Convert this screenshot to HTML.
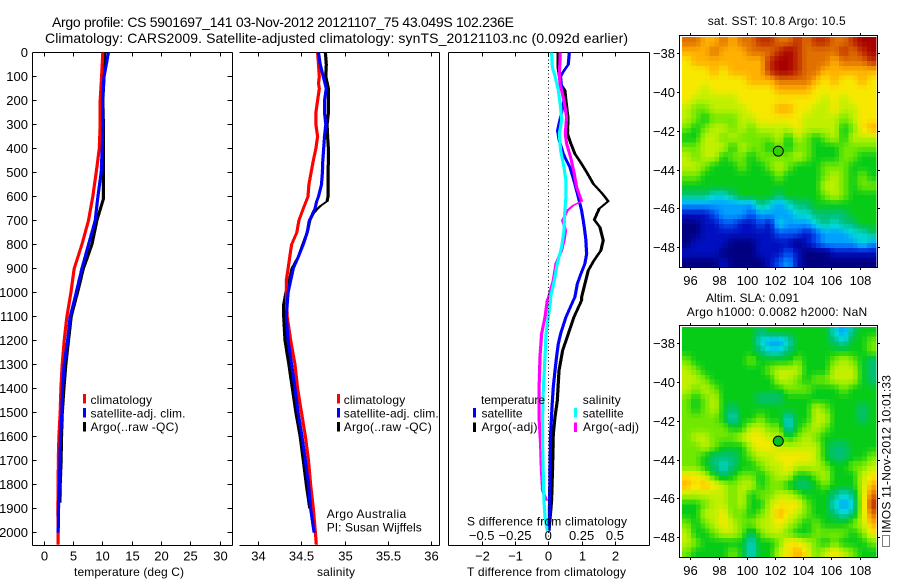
<!DOCTYPE html>
<html lang="en">
<head>
<meta charset="utf-8">
<title>Argo profile chart</title>
<style>
html,body{margin:0;padding:0;background:#fff;width:900px;height:580px;overflow:hidden}
svg{display:block}
text{font-family:"Liberation Sans",sans-serif;fill:#000}
.title{font-size:14px}
.lab{font-size:12px}
.tick{font-size:13px}
.axisline{stroke:#000;stroke-width:1;fill:none;shape-rendering:crispEdges}
</style>
</head>
<body>
<svg id="chart" xmlns="http://www.w3.org/2000/svg" width="900" height="580" viewBox="0 0 900 580">
  <text class="title" x="52" y="27" textLength="462" lengthAdjust="spacing">Argo profile: CS 5901697_141 03-Nov-2012 20121107_75 43.049S 102.236E</text>
  <text class="title" x="45" y="43" textLength="583" lengthAdjust="spacing">Climatology: CARS2009. Satellite-adjusted climatology: synTS_20121103.nc (0.092d earlier)</text>
  <g id="plots"></g>
  <g id="maps"></g>

  <text class="lab" x="74" y="576" textLength="110" lengthAdjust="spacing">temperature (deg C)</text>
  <text class="lab" x="317" y="576" textLength="38" lengthAdjust="spacing">salinity</text>
  <text class="lab" x="467" y="576" textLength="159" lengthAdjust="spacing">T difference from climatology</text>
  <text class="lab" x="467" y="525.5" textLength="160" lengthAdjust="spacing">S difference from climatology</text>

  <g>
    <rect x="83" y="394" width="3" height="9.5" fill="#f00"/>
    <text class="lab" x="90.5" y="404" textLength="61.5" lengthAdjust="spacing">climatology</text>
    <rect x="83" y="408" width="3" height="9.5" fill="#00f"/>
    <text class="lab" x="90.5" y="417.5" textLength="95" lengthAdjust="spacing">satellite-adj. clim.</text>
    <rect x="83" y="422" width="3" height="9.5" fill="#000"/>
    <text class="lab" x="90.5" y="431" textLength="88" lengthAdjust="spacing">Argo(..raw -QC)</text>
  </g>
  <g>
    <rect x="337" y="394" width="3" height="9.5" fill="#f00"/>
    <text class="lab" x="343.7" y="404" textLength="61.5" lengthAdjust="spacing">climatology</text>
    <rect x="337" y="408" width="3" height="9.5" fill="#00f"/>
    <text class="lab" x="343.7" y="417.5" textLength="95" lengthAdjust="spacing">satellite-adj. clim.</text>
    <rect x="337" y="422" width="3" height="9.5" fill="#000"/>
    <text class="lab" x="343.7" y="431" textLength="88" lengthAdjust="spacing">Argo(..raw -QC)</text>
  </g>
  <text class="lab" x="326.7" y="518" textLength="79.5" lengthAdjust="spacing">Argo Australia</text>
  <text class="lab" x="326.7" y="531.7" textLength="95" lengthAdjust="spacing">PI: Susan Wijffels</text>

  <g>
    <text class="lab" x="481" y="404" textLength="64" lengthAdjust="spacing">temperature</text>
    <rect x="473" y="408" width="3" height="9.5" fill="#00f"/>
    <text class="lab" x="481.5" y="417.5" textLength="41" lengthAdjust="spacing">satellite</text>
    <rect x="473" y="422.5" width="3" height="9.5" fill="#000"/>
    <text class="lab" x="481.5" y="431" textLength="56" lengthAdjust="spacing">Argo(-adj)</text>
    <text class="lab" x="582.7" y="404" textLength="38" lengthAdjust="spacing">salinity</text>
    <rect x="574" y="408" width="3" height="9.5" fill="#0ff"/>
    <text class="lab" x="582.7" y="417.5" textLength="41" lengthAdjust="spacing">satellite</text>
    <rect x="574" y="422.5" width="3" height="9.5" fill="#f0f"/>
    <text class="lab" x="583" y="431" textLength="56" lengthAdjust="spacing">Argo(-adj)</text>
  </g>

  <text class="lab" x="707.7" y="25" textLength="138" lengthAdjust="spacing">sat. SST: 10.8 Argo: 10.5</text>
  <text class="lab" x="706" y="302" textLength="93" lengthAdjust="spacing">Altim. SLA: 0.091</text>
  <text class="lab" x="686.7" y="316" textLength="180.5" lengthAdjust="spacing">Argo h1000: 0.0082 h2000: NaN</text>
  <rect x="882.5" y="535.5" width="7" height="11" fill="none" stroke="#000" stroke-width="1" stroke-dasharray="1 1" shape-rendering="crispEdges"/>
  <text class="lab" transform="translate(890.7,533) rotate(-90)" x="0" y="0" textLength="158" lengthAdjust="spacing">IMOS 11-Nov-2012 10:01:33</text>
</svg>

<script>
// ---------- depth axis ----------
const depthTicks = [0,100,200,300,400,500,600,700,800,900,1000,1100,1200,1300,1400,1500,1600,1700,1800,1900,2000];

// ---------- temperature panel ----------
const tempTicks = [0,5,10,15,20,25,30];
const tempDepthClim = [0,100,200,300,400,500,600,700,800,900,1000,1100,1200,1300,1400,1500,1600,1700,1800,1900,2000,2050];
const tempClim = [10.1,9.9,9.66,9.66,9.5,8.98,8.4,7.67,6.54,5.23,4.67,3.98,3.53,3.19,2.96,2.84,2.62,2.52,2.5,2.45,2.5,2.5];
const tempDepthSat = [0,50,100,200,300,400,500,600,700,800,900,1000,1100,1200,1300,1400,1500,1600,1700,1800,1900,2000];
const tempSat = [11.05,10.7,10.3,10.05,10.1,10,9.83,9.27,8.8,7.67,6.54,5.57,4.55,4.1,3.53,3.24,3.13,2.9,2.79,2.73,2.56,2.5];
const tempDepthArgo = [0,100,200,300,400,500,610,700,800,860,900,1000,1100,1200,1300,1400,1500,1600,1700,1800,1875];
const tempArgo = [10.45,10.3,10.1,10.2,10.2,10.2,10.2,9.1,8.25,7.4,6.8,5.8,4.72,4.26,3.8,3.47,3.2,3.07,3,2.84,2.8];

// ---------- salinity panel ----------
const salTicks = [34,34.5,35,35.5,36];
const salDepthClim = [0,50,100,130,150,200,250,300,350,400,450,500,550,600,650,700,750,800,850,900,950,1000,1100,1200,1300,1400,1500,1600,1700,1800,1900,2000,2050];
const salClim = [34.69,34.7,34.71,34.7,34.71,34.69,34.67,34.67,34.69,34.67,34.64,34.615,34.59,34.58,34.525,34.475,34.45,34.39,34.37,34.35,34.33,34.33,34.34,34.38,34.43,34.46,34.505,34.55,34.585,34.61,34.64,34.665,34.675];
const salDepthSat = [0,50,100,150,200,250,300,350,400,450,500,550,600,620,650,700,750,800,850,900,950,1000,1050,1100,1200,1300,1400,1500,1600,1700,1800,1900,2000];
const salSat = [34.7,34.72,34.755,34.79,34.77,34.77,34.785,34.77,34.76,34.75,34.745,34.735,34.7,34.68,34.66,34.595,34.57,34.525,34.47,34.41,34.38,34.35,34.34,34.33,34.35,34.39,34.43,34.465,34.51,34.55,34.585,34.61,34.65];
const salDepthArgo = [0,50,100,150,200,250,300,350,400,450,500,550,600,620,640,670,700,750,800,850,900,950,1000,1050,1100,1200,1300,1400,1500,1600,1700,1800,1900];
const salArgo = [34.78,34.79,34.785,34.815,34.815,34.815,34.8,34.805,34.815,34.815,34.81,34.81,34.81,34.8,34.72,34.64,34.6,34.57,34.52,34.47,34.395,34.365,34.325,34.3,34.3,34.315,34.36,34.4,34.44,34.49,34.525,34.56,34.6];

// ---------- difference panel ----------
const diffTTicks = [-2,-1,0,1,2];
const diffSTicks = [-0.5,-0.25,0,0.25,0.5];
const diffDepthTSat = [0,50,80,100,150,200,250,325,367,422,478,533,603,658,728,783,839,880,922,964,1019,1033,1103,1172,1214,1267,1325,1394,1478,1589,1728,1867,1992];
const diffTSat = [0.63,0.6,0.45,0.37,0.4,0.47,0.4,0.28,0.33,0.45,0.65,0.77,0.9,1,1.08,1.13,1.15,1.1,0.98,0.87,0.8,0.75,0.53,0.37,0.3,0.25,0.2,0.15,0.11,0.07,0.05,0.04,0.02];
const diffDepthTArgo = [0,60,130,158,200,270,339,380,422,464,505,547,589,620,651,697,728,783,825,867,908,964,1019,1033,1103,1172,1242,1325,1450,1519,1589,1728,1867,1992];
const diffTArgo = [0.29,0.29,0.37,0.5,0.53,0.59,0.58,0.68,0.8,1,1.18,1.35,1.63,1.8,1.53,1.38,1.55,1.65,1.58,1.37,1.2,1.1,1,1,0.77,0.6,0.43,0.32,0.27,0.2,0.15,0.13,0.1,0.02];
const diffDepthSArgo = [0,33,89,130,200,270,339,380,436,505,561,619,637,658,700,742,783,825,880,950,1019,1033,1103,1172,1267,1408,1519,1631,1728,1825,1867];
const diffSArgo = [0.0875,0.0875,0.0825,0.0875,0.1175,0.1375,0.1275,0.1375,0.1675,0.195,0.2125,0.25,0.1875,0.1425,0.1075,0.13,0.1175,0.1,0.0575,0.0375,0.0025,-0.0075,-0.025,-0.05,-0.0625,-0.07,-0.07,-0.0575,-0.0525,-0.0425,-0.0125];
const diffDepthSSat = [0,61,103,158,228,283,339,408,478,533,603,672,742,811,880,950,1019,1033,1103,1172,1267,1408,1519,1631,1756,1867,1936,1992];
const diffSSat = [0.025,0.03,0.0525,0.075,0.0925,0.1,0.0825,0.0925,0.1175,0.1325,0.1325,0.1225,0.1175,0.1,0.0675,0.045,0.0175,0.0175,0,-0.0175,-0.025,-0.0375,-0.0425,-0.0425,-0.0375,-0.0325,-0.025,-0.0075];

// ---------- map axes ----------
const lonTicks = [96,98,100,102,104,106,108];
const latTicks = [-38,-40,-42,-44,-46,-48];
const argoLon = 102.236;
const argoLat = -43.049;

// ---------- SST map, one row per latitude band, colour-level values ----------
const sstGrid = [
[11,11,10,10,11,10,11,11,12,12,11,11,12,11,12,12,11,11,12,13,13],
[10,10,10,11,10,10,10,11,11,11,12,13,12,11,11,11,11,12,11,12,13],
[9,10,10,10,10,10,10,10,10,12,13,13,12,11,11,11,10,11,11,11,12],
[9,9,9,10,9,10,10,10,10,12,13,13,12,11,11,10,10,10,10,10,10],
[9,9,9,9,9,9,9,10,10,10,11,11,11,11,10,9,10,9,9,10,9],
[9,9,8,9,9,9,9,9,9,9,10,10,10,10,9,9,9,9,9,9,9],
[9,8,8,8,8,8,9,9,9,9,9,9,9,9,9,8,9,8,9,9,9],
[8,7,7,8,8,8,8,9,9,9,10,10,9,9,8,8,9,8,8,9,9],
[8,7,6,7,7,7,8,8,9,9,9,9,9,8,8,8,8,7,8,9,9],
[7,6,7,8,8,7,8,7,8,8,8,8,9,8,8,8,8,6,7,9,10],
[6,6,8,8,7,8,7,7,7,7,8,6,8,7,6,7,8,6,8,8,8],
[7,7,8,8,8,6,8,7,7,6,7,6,7,7,6,6,6,7,7,7,7],
[8,7,8,8,6,7,7,6,7,7,7,7,8,7,6,6,6,7,7,6,6],
[8,8,7,6,6,6,7,6,6,7,8,7,6,6,6,7,7,7,6,6,6],
[7,7,6,6,6,6,6,6,6,6,7,6,6,6,6,7,8,7,6,7,6],
[6,6,6,6,6,6,6,6,6,6,6,6,6,6,6,8,8,7,6,7,7],
[5,5,5,4,4,5,6,6,6,6,5,6,6,6,6,7,8,7,6,6,6],
[3,3,3,3,3,3,3,3,5,4,3,4,5,5,6,6,6,6,6,6,6],
[1,1,1,2,3,3,3,2,3,3,3,3,4,4,5,5,5,5,6,6,6],
[0,0,1,1,2,2,1,1,2,1,4,3,3,3,4,5,4,5,5,6,6],
[0,0,1,1,1,1,1,1,1,1,2,2,2,1,2,3,3,3,4,4,5],
[0,1,1,1,1,0,0,0,1,1,1,1,0,1,2,3,3,3,3,4,3],
[1,1,1,1,0,0,0,0,1,1,1,2,1,0,0,0,1,1,1,1,1],
[0,0,0,0,1,0,0,0,0,1,2,3,1,0,0,0,0,0,0,0,0]
];

// ---------- SLA map, one row per latitude band, colour-level values ----------
const slaGrid = [
[6,6,6,6,6,6,6,6,5,6,6,6,6,6,6,6,4,3,5,6,6],
[6,6,6,6,6,6,6,6,4,3,3,4,6,6,6,6,5,4,6,6,7],
[6,6,6,6,6,6,6,6,5,4,4,5,6,6,6,6,6,6,6,6,7],
[7,6,6,6,6,6,6,7,6,6,6,6,7,6,6,6,7,8,7,6,5],
[8,7,6,6,6,6,6,6,6,7,8,8,8,6,6,6,8,8,8,6,5],
[8,8,7,6,6,6,6,6,6,6,8,8,7,6,7,7,8,8,8,6,5],
[8,7,8,7,6,6,6,6,6,6,6,7,7,7,6,6,6,7,6,6,6],
[7,6,7,8,6,6,6,6,5,5,5,6,6,6,6,6,6,6,6,6,6],
[7,6,7,8,6,5,6,6,6,6,6,6,6,6,8,7,6,6,6,5,6],
[7,7,7,7,6,4,6,6,7,6,6,4,6,6,8,8,6,6,6,5,6],
[7,7,7,7,7,6,6,8,8,7,7,4,6,7,8,7,6,6,6,6,6],
[7,8,8,7,7,7,8,9,9,8,8,6,7,8,7,6,6,6,6,6,6],
[7,7,8,7,6,6,6,8,9,9,8,8,8,8,8,6,5,5,6,6,6],
[7,7,6,5,5,5,6,7,8,8,9,9,9,9,8,6,5,5,6,6,7],
[7,7,6,5,4,5,6,6,7,8,8,9,8,8,8,7,6,6,7,7,8],
[9,9,8,6,5,6,7,7,6,7,8,8,6,6,7,8,6,6,6,8,9],
[10,9,10,9,8,7,8,8,6,7,7,6,5,5,6,7,6,6,6,8,10],
[8,8,8,8,8,7,8,6,7,7,8,8,7,6,6,6,5,4,5,8,11],
[6,6,7,8,8,7,8,6,6,8,9,9,9,7,6,6,4,3,4,8,12],
[6,6,8,8,9,7,7,6,7,8,10,9,8,7,6,6,5,4,5,8,11],
[7,6,7,8,9,8,7,7,8,8,9,8,7,6,7,6,6,6,7,8,10],
[8,6,6,7,8,8,7,5,7,8,8,7,6,6,7,7,7,7,6,7,9],
[8,7,6,6,6,6,6,4,6,6,7,9,9,8,7,6,7,6,6,6,7],
[7,6,6,6,6,7,6,4,6,6,8,9,10,9,7,8,9,8,7,6,6]
];

const NS = 'http://www.w3.org/2000/svg';
const plots = document.getElementById('plots');
const maps = document.getElementById('maps');

// colour ramp used by both maps
const ramp = ['#000080','#0010c0','#0050f0','#00a0ff','#00d8d8','#00c078','#06cc18','#70e800','#c0f000','#f8e800','#ffb000','#e07000','#c03000','#a80000'];
function hexRgb(h){return [parseInt(h.slice(1,3),16),parseInt(h.slice(3,5),16),parseInt(h.slice(5,7),16)];}
function levelColor(v){
  const c = Math.max(0, Math.min(ramp.length-1, v));
  const i = Math.min(ramp.length-2, Math.floor(c));
  const f = c-i;
  const a = hexRgb(ramp[i]), b = hexRgb(ramp[i+1]);
  return 'rgb('+[0,1,2].map(k=>Math.round(a[k]+(b[k]-a[k])*f)).join(',')+')';
}

function mk(tag, parent, attrs){
  const el = document.createElementNS(NS, tag);
  for (const k in attrs) el.setAttribute(k, attrs[k]);
  parent.appendChild(el);
  return el;
}
function label(parent, name, str, x, y, anchor, cls){
  const el = mk('text', parent, {x:x, y:y, 'text-anchor':anchor, 'class':cls||'tick'});
  
  
  el.textContent = str;
  return el;
}
function fmt(v){ return (v<0 ? '\u2212' : '') + Math.abs(v); }
function seg(parent, name, x1, y1, x2, y2){
  const el = mk('line', parent, {x1:x1, y1:y1, x2:x2, y2:y2, 'class':'axisline'});
  
  
  return el;
}

// depth axis shared by the profile panels
const depthY = d => 52.5 + d*0.24;
const plotBottom = 545.5;
const plotTop = 52.5;

// pen is wide horizontally and thin vertically, as in the original rendering
function profile(parent, name, xs, ds, xFn, color){
  let right = '', left = '';
  const n = Math.min(xs.length, ds.length);
  for (let i=0;i<n;i++){
    const x = xFn(xs[i]), y = depthY(ds[i]);
    right += (i?'L':'M') + (x+1.5).toFixed(1) + ' ' + y.toFixed(1);
  }
  for (let i=n-1;i>=0;i--){
    const x = xFn(xs[i]), y = depthY(ds[i]);
    left += 'L' + (x-1.5).toFixed(1) + ' ' + y.toFixed(1);
  }
  const el = mk('path', parent, {d:right+left+'Z', fill:color, stroke:color, 'stroke-width':0.2, 'shape-rendering':'crispEdges'});
  
  
}

// ---------- panel 1 : temperature ----------
const tX = v => 43.5 + v*5.87;
const p1 = mk('g', plots, {});


seg(p1, 'temperature-top-axis', 32.5, plotTop, 232.5, plotTop);
seg(p1, 'temperature-bottom-axis', 32.5, plotBottom, 232.5, plotBottom);
seg(p1, 'depth-axis-left', 32.5, plotTop, 32.5, plotBottom);
seg(p1, 'temperature-right-axis', 232.5, plotTop, 232.5, plotBottom);
depthTicks.forEach(d=>{
  const y = Math.round(depthY(d)-0.5)+0.5;
  seg(p1, 'depth-tick-left', 32.5, y, 36.5, y);
  seg(p1, 'depth-tick-right', 227.5, y, 232.5, y);
  label(p1, 'depth-tick-label', String(d), 28, y+4.5, 'end');
});
tempTicks.forEach(v=>{
  const x = Math.round(tX(v))+0.5;
  seg(p1, 'temperature-tick-top', x, plotTop, x, plotTop+4);
  seg(p1, 'temperature-tick-bottom', x, plotBottom-4, x, plotBottom);
  label(p1, 'temperature-tick-label', String(v), x, 560.7, 'middle');
});
profile(p1, 'temperature-argo-line', tempArgo, tempDepthArgo, tX, '#000');
profile(p1, 'temperature-climatology-line', tempClim, tempDepthClim, tX, '#f00');
profile(p1, 'temperature-satellite-line', tempSat, tempDepthSat, tX, '#00f');

// ---------- panel 2 : salinity ----------
const sX = v => 257.7 + (v-34)*86.8;
const p2 = mk('g', plots, {});


seg(p2, 'salinity-top-axis', 239.5, plotTop, 439.5, plotTop);
seg(p2, 'salinity-bottom-axis', 239.5, plotBottom, 439.5, plotBottom);
seg(p2, 'salinity-right-axis', 439.5, plotTop, 439.5, plotBottom);
salTicks.forEach(v=>{
  const x = Math.round(sX(v))+0.5;
  seg(p2, 'salinity-tick-top', x, plotTop, x, plotTop+4);
  seg(p2, 'salinity-tick-bottom', x, plotBottom-4, x, plotBottom);
  label(p2, 'salinity-tick-label', String(v), x, 560.7, 'middle');
});
profile(p2, 'salinity-argo-line', salArgo, salDepthArgo, sX, '#000');
profile(p2, 'salinity-climatology-line', salClim, salDepthClim, sX, '#f00');
profile(p2, 'salinity-satellite-line', salSat, salDepthSat, sX, '#00f');

// ---------- panel 3 : differences ----------
const dX = v => 548.3 + v*33.3;
const dSX = v => dX(v*4);
const p3 = mk('g', plots, {});


seg(p3, 'difference-top-axis', 448.5, plotTop, 649.5, plotTop);
seg(p3, 'difference-bottom-axis', 448.5, plotBottom, 649.5, plotBottom);
seg(p3, 'difference-left-axis', 448.5, plotTop, 448.5, plotBottom);
seg(p3, 'difference-right-axis', 649.5, plotTop, 649.5, plotBottom);
diffTTicks.forEach(v=>{
  const x = Math.round(dX(v))+0.5;
  seg(p3, 'difference-tick-top', x, plotTop, x, plotTop+4);
  seg(p3, 'difference-tick-bottom', x, plotBottom-4, x, plotBottom);
  label(p3, 't-difference-tick-label', fmt(v), x, 560.7, 'middle');
});
diffSTicks.forEach(v=>{
  label(p3, 's-difference-tick-label', fmt(v), dSX(v), 540, 'middle');
});
profile(p3, 't-argo-difference-line', diffTArgo, diffDepthTArgo, dX, '#000');
profile(p3, 't-satellite-difference-line', diffTSat, diffDepthTSat, dX, '#00f');
profile(p3, 's-argo-difference-line', diffSArgo, diffDepthSArgo, dSX, '#f0f');
profile(p3, 's-satellite-difference-line', diffSSat, diffDepthSSat, dSX, '#0ff');
const zero = seg(p3, 'zero-difference-line', 548.5, plotTop, 548.5, plotBottom);
zero.setAttribute('stroke-dasharray', '1 2.5');

// ---------- maps ----------
const lonX = lon => 690.3 + (lon-96)*14.11;
// bilinear read of a grid at fractional row / column
function gridValue(grid, r, c){
  const rows = grid.length, cols = grid[0].length;
  const rr = Math.max(0, Math.min(rows-1, r)), cc = Math.max(0, Math.min(cols-1, c));
  const r0 = Math.min(rows-2, Math.floor(rr)), c0 = Math.min(cols-2, Math.floor(cc));
  const fr = rr-r0, fc = cc-c0;
  return (grid[r0][c0]*(1-fc)+grid[r0][c0+1]*fc)*(1-fr) + (grid[r0+1][c0]*(1-fc)+grid[r0+1][c0+1]*fc)*fr;
}
function drawMap(prefix, grid, top, dotColor){
  const g = mk('g', maps, {});
  
  
  const latY = lat => top + 18.3 + (-38-lat)*19.37;
  const imgL = 682, imgR = 876, imgT = top+2, imgB = top+232;
  const sub = 2;
  const nRows = grid.length*sub, nCols = grid[0].length*sub;
  const cw = (imgR-imgL)/nCols, ch = (imgB-imgT)/nRows;
  for (let r=0;r<nRows;r++){
    for (let c=0;c<nCols;c++){
      const val = gridValue(grid, (r+0.5)/sub-0.5, (c+0.5)/sub-0.5);
      const cell = mk('rect', g, {
        x:(imgL+c*cw).toFixed(2), y:(imgT+r*ch).toFixed(2),
        width:(cw+0.5).toFixed(2), height:(ch+0.5).toFixed(2),
        fill:levelColor(val), 'shape-rendering':'crispEdges'
      });
      
      
    }
  }
  const frame = mk('rect', g, {x:679.5, y:top+0.5, width:198, height:232, fill:'none', stroke:'#000', 'stroke-width':1, 'shape-rendering':'crispEdges'});
  
  
  lonTicks.forEach(v=>{
    const x = Math.round(lonX(v))+0.5;
    seg(g, prefix+'-lon-tick-top', x, top-2, x, top);
    seg(g, prefix+'-lon-tick-bottom', x, top+232, x, top+235);
    label(g, prefix+'-lon-tick-label', String(v), x, top+250, 'middle');
  });
  latTicks.forEach(v=>{
    const y = Math.round(latY(v))+0.5;
    seg(g, prefix+'-lat-tick-left', 677, y, 679.5, y);
    seg(g, prefix+'-lat-tick-right', 877.5, y, 880, y);
    label(g, prefix+'-lat-tick-label', fmt(v), 675, y+4.5, 'end');
  });
  const dot = mk('circle', g, {cx:lonX(argoLon), cy:latY(argoLat), r:5, fill:dotColor, stroke:'#000', 'stroke-width':1});
  
  
}
drawMap('sst', sstGrid, 35, '#30d000');
drawMap('sla', slaGrid, 325, '#00c020');
</script>
</body>
</html>
